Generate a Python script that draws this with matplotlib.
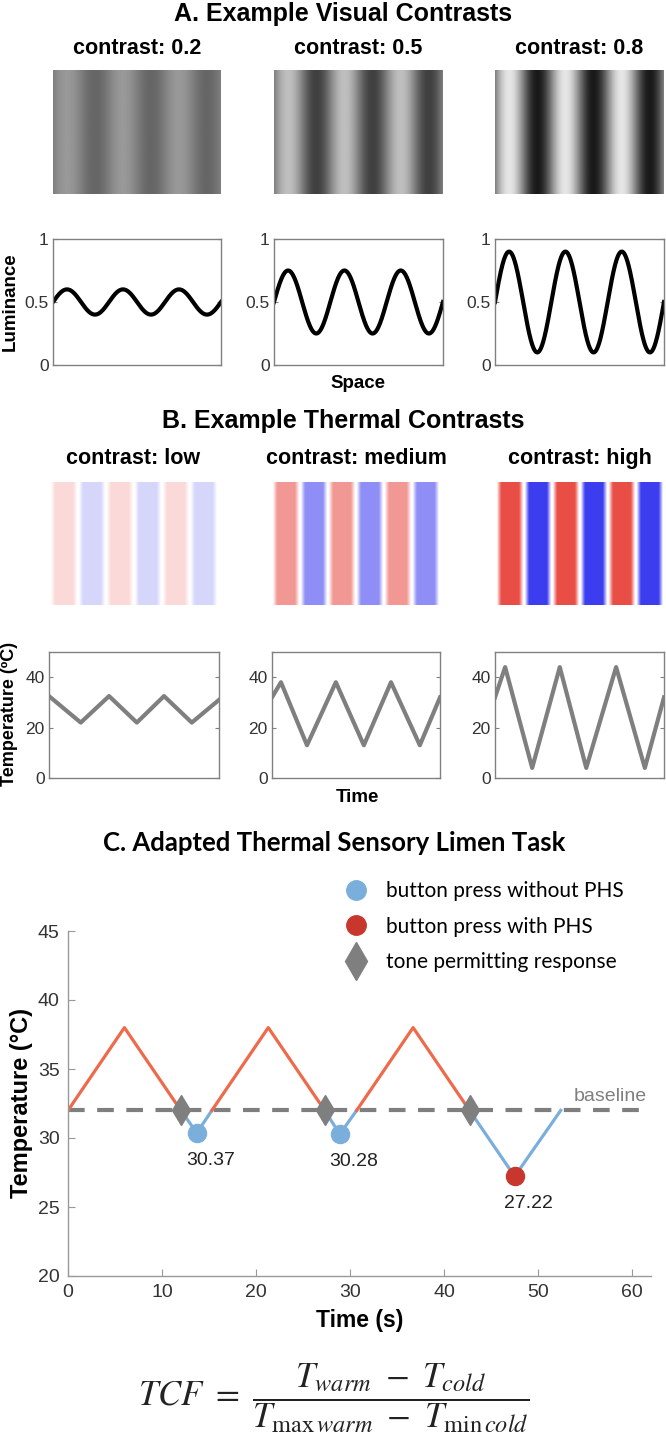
import numpy as np
import matplotlib.pyplot as plt
from matplotlib.lines import Line2D

# ---- panel A: visual contrasts ----
visual_contrasts = [0.2, 0.5, 0.8]
visual_labels = ["contrast: 0.2", "contrast: 0.5", "contrast: 0.8"]
n_cycles = 3

# ---- panel B: thermal contrasts ----
thermal_labels = ["contrast: low", "contrast: medium", "contrast: high"]
thermal_strength = [0.2, 0.55, 0.95]
thermal_t = [
    [0, 5.6, 10.6, 15.5, 20.3, 25.2, 30],
    [0, 1.6, 6.25, 11.4, 16.4, 21.25, 26.4, 30],
    [0, 1.8, 6.6, 11.5, 16.2, 21.5, 26.6, 30],
]
thermal_temp = [
    [32.5, 22, 32.5, 22, 32.5, 22, 31],
    [32, 38, 13, 38, 13, 38, 13, 32],
    [32, 44, 4, 44, 4, 44, 4, 32],
]

# ---- panel C: thermal sensory limen task ----
baseline_temp = 32
peak_temp = 38
trial_start = [0, 15.3, 30.7]
trial_peak = [6.0, 21.3, 36.7]
tone_time = [12.0, 27.3, 42.7]
press_time = [13.7, 28.9, 47.5]
press_temp = [30.37, 30.28, 27.22]
press_phs = [False, False, True]
return_time = [15.3, 30.7, 52.4]

W, H = 666, 1437
plt.rcParams['font.family'] = ['Liberation Sans', 'DejaVu Sans']
plt.rcParams['mathtext.fontset'] = 'stix'

fig = plt.figure(figsize=(W / 100, H / 100), dpi=100)


def px_axes(l, t, r, b):
    return fig.add_axes([l / W, 1 - b / H, (r - l) / W, (b - t) / H])


def px_text(x, y, s, **kw):
    return fig.text(x / W, 1 - y / H, s, **kw)


spine_col = '#808080'
tick_col = '#333333'
red_full = np.array([0.91, 0.27, 0.24])
blue_full = np.array([0.20, 0.20, 0.94])
orange = '#EE6A4A'
light_blue = '#7AAEDB'
phs_red = '#C8372D'
grey = '#7F7F7F'


def style_box(ax, yticks, ylim):
    ax.set_ylim(*ylim)
    ax.set_yticks(yticks)
    ax.set_xticks([])
    for s in ax.spines.values():
        s.set_color(spine_col)
        s.set_linewidth(1)
    ax.tick_params(axis='y', direction='in', right=True, length=3,
                   color=spine_col, labelcolor=tick_col, labelsize=12.5, pad=3)


# ================= Panel A =================
px_text(343, 14, "A. Example Visual Contrasts", ha='center', va='center',
        fontsize=18, fontweight='bold')
a_cols = [(53, 221), (274, 443), (495, 664)]
x = np.linspace(0, n_cycles, 500)
for i, c in enumerate(visual_contrasts):
    l, r = a_cols[i]
    lum = 0.5 + c / 2 * np.sin(2 * np.pi * x)
    px_text((l + r) / 2, 48, visual_labels[i], ha='center', va='center',
            fontsize=15.5, fontweight='bold')
    ax = px_axes(l, 70, r, 194)
    ax.imshow(lum[None, :], cmap='gray', vmin=0, vmax=1, aspect='auto')
    ax.axis('off')

    ax = px_axes(l, 239, r, 365)
    ax.plot(x, lum, color='black', lw=3)
    ax.set_xlim(0, n_cycles)
    style_box(ax, [0, 0.5, 1], (0, 1))
    ax.set_yticklabels(['0', '0.5', '1'])
px_text(10, 302, "Luminance", rotation=90, ha='center', va='center',
        fontsize=13.5, fontweight='bold')
px_text(358, 383, "Space", ha='center', va='center', fontsize=13.5,
        fontweight='bold')

# ================= Panel B =================
px_text(343, 421, "B. Example Thermal Contrasts", ha='center', va='center',
        fontsize=18, fontweight='bold')
b_img_cols = [(50, 217), (272, 440), (496, 664)]
b_plot_cols = [(49, 219), (272, 440), (495, 664)]
for i, strength in enumerate(thermal_strength):
    l, r = b_img_cols[i]
    px_text((l + r) / 2, 458, thermal_labels[i], ha='center', va='center',
            fontsize=15.5, fontweight='bold')
    s = np.sin(2 * np.pi * x)
    a = np.clip(2.2 * np.abs(s) - 0.2, 0, 1) * strength
    full = np.where(s[:, None] >= 0, red_full[None, :], blue_full[None, :])
    rgb = 1 - a[:, None] * (1 - full)
    ax = px_axes(l, 482, r, 605)
    ax.imshow(rgb[None, :, :], aspect='auto')
    ax.axis('off')

    l, r = b_plot_cols[i]
    ax = px_axes(l, 652, r, 778)
    ax.plot(thermal_t[i], thermal_temp[i], color=grey, lw=3)
    ax.set_xlim(0, 30)
    style_box(ax, [0, 20, 40], (0, 50))
px_text(10, 714, "Temperature (ºC)", rotation=90, ha='center', va='center',
        fontsize=13, fontweight='bold')
px_text(357, 797, "Time", ha='center', va='center', fontsize=13.5,
        fontweight='bold')

# ================= Panel C =================
px_text(334, 843, "C. Adapted Thermal Sensory Limen Task", ha='center',
        va='center', fontsize=18.5, fontweight='bold',
        family=['Lato', 'DejaVu Sans'])
ax = px_axes(68, 931, 651, 1276)
ax.plot([0, 61.6], [baseline_temp, baseline_temp], color=grey, lw=3,
        dashes=(4, 3), zorder=1)
for i in range(len(tone_time)):
    ax.plot([trial_start[i], trial_peak[i], tone_time[i]],
            [baseline_temp, peak_temp, baseline_temp], color=orange, lw=2.3,
            zorder=2)
    ax.plot([tone_time[i], press_time[i], return_time[i]],
            [baseline_temp, press_temp[i], baseline_temp], color=light_blue,
            lw=2.3, zorder=2)
    ax.plot(tone_time[i], baseline_temp, marker='d', color=grey, ms=15,
            zorder=3)
    ax.plot(press_time[i], press_temp[i], 'o',
            color=phs_red if press_phs[i] else light_blue, ms=13, zorder=4)
    ax.text(press_time[i] - 1.1, press_temp[i] - 2.0, f"{press_temp[i]:.2f}",
            ha='left', va='center', fontsize=14, color='#222222')
ax.text(61.6, baseline_temp + 1.0, "baseline", ha='right', va='center',
        fontsize=14, color=grey)
ax.set_xlim(0, 62)
ax.set_ylim(20, 45)
ax.set_xticks(range(0, 61, 10))
ax.set_yticks(range(20, 46, 5))
ax.spines['top'].set_visible(False)
ax.spines['right'].set_visible(False)
for sp in ('left', 'bottom'):
    ax.spines[sp].set_color('#999999')
    ax.spines[sp].set_linewidth(1)
ax.tick_params(direction='in', length=5, color='#999999',
               labelcolor=tick_col, labelsize=14, pad=6)
px_text(22, 1103, "Temperature (°C)", rotation=90, ha='center', va='center',
        fontsize=17, fontweight='bold')
px_text(360, 1320, "Time (s)", ha='center', va='center', fontsize=16.5,
        fontweight='bold')

handles = [
    Line2D([], [], ls='none', marker='o', color=light_blue, ms=14),
    Line2D([], [], ls='none', marker='o', color=phs_red, ms=14),
    Line2D([], [], ls='none', marker='d', color=grey, ms=19),
]
labels = ["button press without PHS", "button press with PHS",
          "tone permitting response"]
fig.legend(handles, labels, loc='upper left',
           bbox_to_anchor=(346 / W, 1 - 881 / H), frameon=False,
           prop={'family': ['Lato', 'DejaVu Sans'], 'size': 15},
           handlelength=1.0, handletextpad=0.9, labelspacing=0.75,
           borderpad=0, borderaxespad=0)

# formula
px_text(334, 1398, r"$TCF\ =\ \dfrac{T_{warm}\ -\ T_{cold}}"
        r"{T_{\max\,warm}\ -\ T_{\min\,cold}}$",
        ha='center', va='center', fontsize=25, color='#222222')

fig.savefig("out.png", dpi=100)
